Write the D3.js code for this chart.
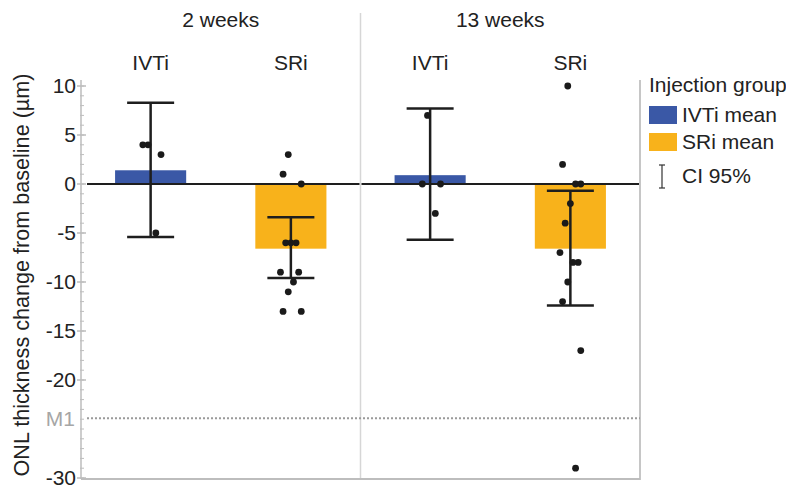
<!DOCTYPE html>
<html>
<head>
<meta charset="utf-8">
<script src="https://cdn.jsdelivr.net/npm/d3@7"></script>
<style>
  body { margin: 0; background: #fff; }
  text { font-family: "Liberation Sans", Arial, sans-serif; fill: #222; }
</style>
</head>
<body>
<div class="canva"></div>
<script>
// data
var timepoints = ["2 weeks", "13 weeks"]
var groups = ["IVTi", "SRi"]

// mean change per timepoint, [IVTi, SRi]
var mean2w = [1.4, -6.6]
var mean13w = [0.9, -6.6]
// 95% CI bounds
var ciLow2w = [-5.4, -9.6]
var ciHigh2w = [8.3, -3.4]
var ciLow13w = [-5.7, -12.4]
var ciHigh13w = [7.7, -0.7]

// single eyes
var ivti2w = [4, 4, 3, -5]
var sri2w = [3, 1, 0, -6, -6, -6, -9, -9, -10, -11, -13, -13]
var ivti13w = [7, 0, 0, -3]
var sri13w = [10, 2, 0, 0, -2, -4, -7, -8, -8, -10, -12, -17, -29]

var yTicks = [10, 5, 0, -5, -10, -15, -20, -30]
var m1Value = -23.9

var colors = {"IVTi": "#3a58a6", "SRi": "#f8b21b"}

var width = 786, height = 487
var plotLeft = 81, plotRight = 640, plotTop = 86, plotBottom = 478
var fs = "21px"

var svg = d3.select(".canva")
  .append("svg")
    .attr("width", width)
    .attr("height", height)

var y = d3.scaleLinear()
  .domain([-30, 10])
  .range([plotBottom, plotTop])

var xPanel = d3.scaleBand()
  .domain(timepoints)
  .range([plotLeft, plotRight])

var xGroup = d3.scaleBand()
  .domain(groups)
  .range([0, xPanel.bandwidth()])
  .paddingInner(0.493)
  .paddingOuter(0.243)

var panels = [
  {time: "2 weeks", mean: mean2w, lo: ciLow2w, hi: ciHigh2w, pts: [ivti2w, sri2w]},
  {time: "13 weeks", mean: mean13w, lo: ciLow13w, hi: ciHigh13w, pts: [ivti13w, sri13w]}
]

// frame lines
svg.append("line")
  .attr("x1", xPanel("13 weeks")).attr("x2", xPanel("13 weeks"))
  .attr("y1", 13).attr("y2", plotBottom + 1)
  .attr("stroke", "#d6d6d6").attr("stroke-width", 1.5)
svg.append("line")
  .attr("x1", plotRight).attr("x2", plotRight)
  .attr("y1", 80).attr("y2", plotBottom + 2)
  .attr("stroke", "#c6c6c6").attr("stroke-width", 2)
svg.append("line")
  .attr("x1", plotLeft).attr("x2", plotRight)
  .attr("y1", plotBottom + 1).attr("y2", plotBottom + 1)
  .attr("stroke", "#bdbdbd").attr("stroke-width", 2)

// y axis with minor ticks
var yAxis = svg.append("g").attr("transform", "translate(" + plotLeft + ",0)")
yAxis.append("line")
  .attr("y1", 80).attr("y2", plotBottom + 1)
  .attr("stroke", "#bdbdbd").attr("stroke-width", 1.5)
yAxis.selectAll(".minor")
  .data(d3.range(-30, 11))
  .enter().append("line")
    .attr("x1", -1).attr("x2", 3)
    .attr("y1", function(d) { return y(d) }).attr("y2", function(d) { return y(d) })
    .attr("stroke", "#bdbdbd").attr("stroke-width", 1)
yAxis.selectAll(".major")
  .data(yTicks)
  .enter().append("line")
    .attr("x1", -4).attr("x2", 5)
    .attr("y1", function(d) { return y(d) }).attr("y2", function(d) { return y(d) })
    .attr("stroke", "#bdbdbd").attr("stroke-width", 1.5)
yAxis.selectAll(".lbl")
  .data(yTicks)
  .enter().append("text")
    .attr("x", -5)
    .attr("y", function(d) { return y(d) })
    .attr("dy", "0.34em")
    .attr("text-anchor", "end")
    .style("font-size", fs)
    .text(function(d) { return d })

// M1 reference line
svg.append("line")
  .attr("x1", plotLeft + 6).attr("x2", plotRight)
  .attr("y1", y(m1Value)).attr("y2", y(m1Value))
  .attr("stroke", "#9a9a9a").attr("stroke-width", 2)
  .attr("stroke-dasharray", "2,2")
svg.append("text")
  .attr("x", plotLeft - 6).attr("y", y(m1Value)).attr("dy", "0.36em")
  .attr("text-anchor", "end")
  .style("font-size", fs).style("fill", "#a6a6a6")
  .text("M1")

// axis title
svg.append("text")
  .attr("transform", "translate(29," + 275 + ")rotate(-90)")
  .attr("text-anchor", "middle")
  .style("font-size", "21.6px")
  .text("ONL thickness change from baseline (µm)")

panels.forEach(function(p) {
  var x0 = xPanel(p.time)
  var g = svg.append("g").attr("transform", "translate(" + x0 + ",0)")

  svg.append("text")
    .attr("x", x0 + xPanel.bandwidth() / 2).attr("y", 27)
    .attr("text-anchor", "middle").style("font-size", fs)
    .text(p.time)

  g.selectAll(".grp")
    .data(groups)
    .enter().append("text")
      .attr("x", function(d) { return xGroup(d) + xGroup.bandwidth() / 2 })
      .attr("y", 70)
      .attr("text-anchor", "middle").style("font-size", fs)
      .text(function(d) { return d })

  // mean bars
  g.selectAll("rect")
    .data(groups)
    .enter().append("rect")
      .attr("x", function(d) { return xGroup(d) })
      .attr("width", xGroup.bandwidth())
      .attr("y", function(d, i) { return y(Math.max(0, p.mean[i])) })
      .attr("height", function(d, i) { return Math.abs(y(p.mean[i]) - y(0)) })
      .attr("fill", function(d) { return colors[d] })

  // zero line
  g.append("line")
    .attr("x1", x0 === plotLeft ? 6 : 1).attr("x2", xPanel.bandwidth() - 1)
    .attr("y1", y(0)).attr("y2", y(0))
    .attr("stroke", "#1e1e1e").attr("stroke-width", 2)

  // CI error bars
  groups.forEach(function(grp, i) {
    var cx = xGroup(grp) + xGroup.bandwidth() / 2
    var eb = g.append("g").attr("stroke", "#1e1e1e").attr("stroke-width", 2.5)
    eb.append("line").attr("x1", cx).attr("x2", cx)
      .attr("y1", y(p.hi[i])).attr("y2", y(p.lo[i]))
    eb.append("line").attr("x1", cx - 23.5).attr("x2", cx + 23.5)
      .attr("y1", y(p.hi[i])).attr("y2", y(p.hi[i]))
    eb.append("line").attr("x1", cx - 23.5).attr("x2", cx + 23.5)
      .attr("y1", y(p.lo[i])).attr("y2", y(p.lo[i]))

    // points, small deterministic jitter
    g.selectAll(".pt" + i)
      .data(p.pts[i])
      .enter().append("circle")
        .attr("cx", function(d, k) { return cx + (((k * 7 + 3) % 9) - 4) * 2.6 })
        .attr("cy", function(d) { return y(d) })
        .attr("r", 3.4)
        .attr("fill", "#1a1a1a")
  })
})

// legend
var leg = svg.append("g").attr("transform", "translate(649,0)")
leg.append("text").attr("x", 0).attr("y", 92).style("font-size", fs).text("Injection group")
groups.forEach(function(grp, i) {
  leg.append("rect")
    .attr("x", 0).attr("y", 106 + i * 27)
    .attr("width", 28).attr("height", 18)
    .attr("fill", colors[grp])
  leg.append("text")
    .attr("x", 33).attr("y", 122 + i * 27)
    .style("font-size", fs)
    .text(grp + " mean")
})
var ci = leg.append("g").attr("stroke", "#333").attr("stroke-width", 1.2)
ci.append("line").attr("x1", 13).attr("x2", 13).attr("y1", 165).attr("y2", 188)
ci.append("line").attr("x1", 10).attr("x2", 16).attr("y1", 165).attr("y2", 165)
ci.append("line").attr("x1", 10).attr("x2", 16).attr("y1", 188).attr("y2", 188)
leg.append("text").attr("x", 33).attr("y", 183).style("font-size", fs).text("CI 95%")
</script>
</body>
</html>
